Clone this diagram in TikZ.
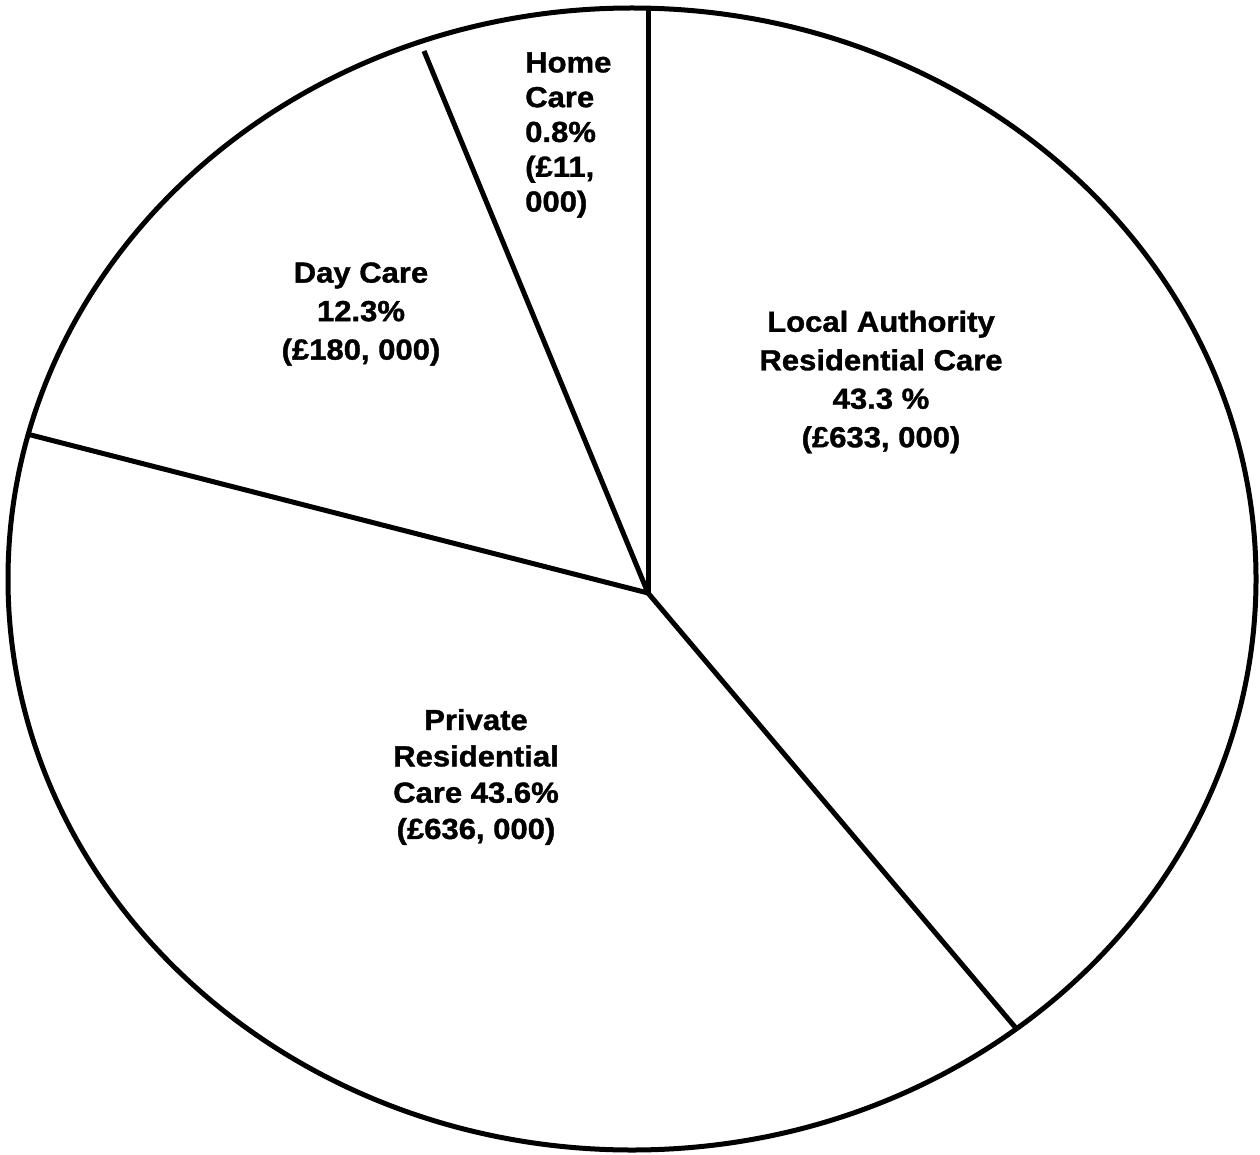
\documentclass[tikz,border=0pt]{standalone}
\usepackage{fontspec}
\setmainfont{Liberation Sans}
\newfontfamily\labelfont[FakeBold=1.2]{Liberation Sans Bold}
\begin{document}
\begin{tikzpicture}[x=1pt,y=-1pt,
  outline/.style={line width=5pt},
  spoke/.style={line width=5pt},
  slicelabel/.style={inner sep=0pt,xscale=1.07,font=\labelfont\fontsize{29}{38.5}\selectfont}]
\useasboundingbox (0,0) rectangle (1260,1155);
% pie outline
\draw[outline] (632,579) ellipse [x radius=624, y radius=571];
% hub and slice boundaries
\coordinate (hub) at (648,593);
\coordinate (eTop) at (648,9);
\coordinate (eHome) at (424,51);
\coordinate (eDay) at (27,434);
\coordinate (ePriv) at (1015,1027);
\draw[spoke] (hub) -- (eTop);
\draw[spoke] (hub) -- (eHome);
\draw[spoke] (hub) -- (eDay);
\draw[spoke] (hub) -- (ePriv);
% slice labels
\node[slicelabel,align=center] (la) at (881,382)
  {Local Authority\\Residential Care\\43.3 \%\\(£633, 000)};
\node[slicelabel,align=center] (day) at (361,314)
  {Day Care\\12.3\%\\(£180, 000)};
\node[slicelabel,align=center,font=\labelfont\fontsize{29}{36.3}\selectfont] (priv) at (476,777)
  {Private\\Residential\\Care 43.6\%\\(£636, 000)};
\node[slicelabel,align=left,anchor=west,font=\labelfont\fontsize{29}{34.8}\selectfont] (home) at (525,135)
  {Home\\Care\\0.8\%\\(£11,\\000)};
\end{tikzpicture}
\end{document}
